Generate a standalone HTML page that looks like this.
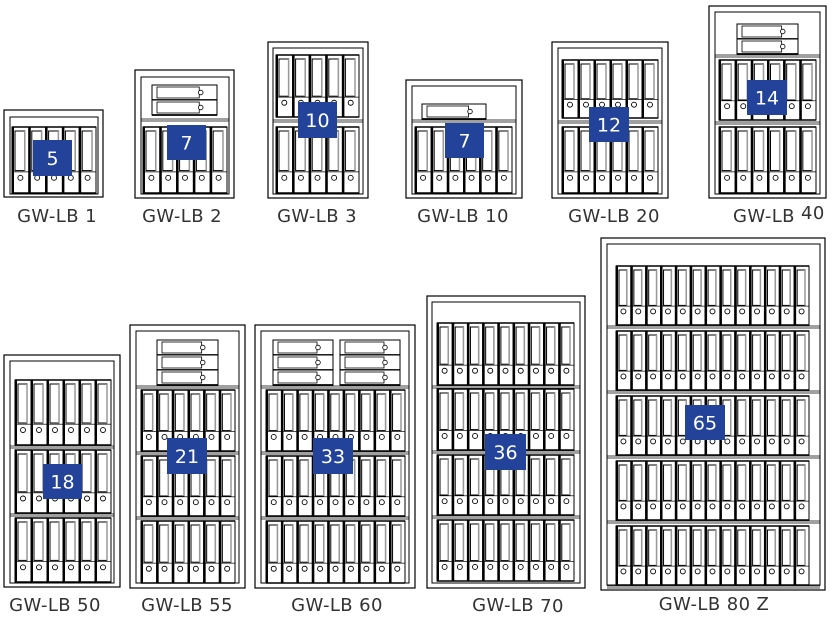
<!DOCTYPE html>
<html><head><meta charset="utf-8"><style>
html,body{margin:0;padding:0;background:#fff;width:836px;height:619px;overflow:hidden}
svg{display:block}
text{font-family:"DejaVu Sans","Liberation Sans",sans-serif}
.lb{font-size:18px;fill:#333;letter-spacing:0.4px}
.bd{font-size:19px;fill:#fff}
</style></head><body>
<svg id="s" width="836" height="619" viewBox="0 0 836 619" xmlns="http://www.w3.org/2000/svg">
<g id="g"></g>
<g id="badges"></g>
<text class="lb" x="57" y="222" text-anchor="middle">GW-LB 1</text>
<text class="lb" x="182" y="222" text-anchor="middle">GW-LB 2</text>
<text class="lb" x="317" y="222" text-anchor="middle">GW-LB 3</text>
<text class="lb" x="463" y="222" text-anchor="middle">GW-LB 10</text>
<text class="lb" x="614" y="222" text-anchor="middle">GW-LB 20</text>
<text class="lb" x="733" y="222">GW-LB <tspan dy="-3">40</tspan></text>
<text class="lb" x="55" y="611" text-anchor="middle">GW-LB 50</text>
<text class="lb" x="187" y="611" text-anchor="middle">GW-LB 55</text>
<text class="lb" x="337" y="611" text-anchor="middle">GW-LB 60</text>
<text class="lb" x="518" y="611" text-anchor="middle">GW-LB <tspan dy="1">70</tspan></text>
<text class="lb" x="714" y="610" text-anchor="middle">GW-LB 80 Z</text>
</svg>
<script>
var NS="http://www.w3.org/2000/svg",G=document.getElementById('g'),B=document.getElementById('badges');
function el(t,a,p){var e=document.createElementNS(NS,t);for(var k in a)e.setAttribute(k,a[k]);(p||G).appendChild(e);return e;}
function rect(x,y,w,h,sw,fill){el('rect',{x:x,y:y,width:w,height:h,fill:fill||'none',stroke:'#000','stroke-width':sw||1});}
function line(x1,y1,x2,y2,sw,c){el('line',{x1:x1,y1:y1,x2:x2,y2:y2,stroke:c||'#000','stroke-width':sw||1});}
function row(x0,x1,y0,y1,n){var w=(x1-x0)/n,h=y1-y0;
 for(var i=0;i<n;i++){var x=x0+i*w;
  rect(x,y0,w,h,1,'#fff');
  line(x+1,y0,x+1,y1,2);
  rect(x+3,y0+4,w-7,h*0.6,1,'#fff');
  line(x+w-4,y0+4,x+w-4,y0+4+h*0.6,1.5,'#999');
  line(x,y0+h*0.68,x+w,y0+h*0.68,0.7);
  el('circle',{cx:x+w/2,cy:y0+h*0.77,r:2.5,fill:'#fff',stroke:'#000','stroke-width':0.9});
  line(x,y1,x+w,y1,1.5);
 }
 line(x0,y0,x1,y0,1.5);
}
function hb(x0,x1,y0,h,n){for(var i=0;i<n;i++){var y=y0+i*h;rect(x0,y,x1-x0,h,1,'#fff');line(x0,y+h,x1,y+h,1.8);rect(x0+5,y+2,(x1-x0)*0.65,h-4,0.8);el('circle',{cx:x0+(x1-x0)*0.75,cy:y+h/2,r:2.3,fill:'#fff',stroke:'#000','stroke-width':0.8});}}
function shelf(x0,x1,y){line(x0,y-1,x1,y-1,0.8);line(x0,y+1,x1,y+1,0.8);}
function cab(ox,oy,ow,oh,ix,iy,iw,ih){rect(ox,oy,ow,oh,1.2);rect(ix,iy,iw,ih,1);}
function badge(x,y,w,h,t){el('rect',{x:x,y:y,width:w,height:h,fill:'#23429a'},B);var e=el('text',{x:x+w/2,y:y+h/2+7,'text-anchor':'middle',class:'bd'},B);e.textContent=t;}
cab(4,110,99,87,10,117,88,77); row(12,96,127,193,5); badge(33,140,39,36,'5');
cab(135,70,99,128,141,77,88,117); hb(152,217,85,15,2); shelf(141,229,120); row(143,227,127,193,5); badge(167,125,39,35,'7');
cab(268,42,100,156,273,48,90,146); row(276,359,55,117,5); shelf(273,363,121); row(276,359,127,193,5); badge(298,102,39,36,'10');
cab(406,80,116,118,412,86,104,108); hb(422,486,104,15,1); shelf(412,516,121); row(415,512,127,193,6); badge(445,123,39,35,'7');
cab(552,42,116,156,558,48,104,146); row(562,658,60,118,6); shelf(558,662,122); row(562,658,127,193,6); badge(589,107,40,35,'12');
cab(709,6,117,192,715,12,105,182); hb(737,798,24,15,2); shelf(715,820,56); row(719,816,60,120,6); shelf(715,820,123); row(719,816,127,193,6); badge(747,80,40,35,'14');
cab(4,355,116,232,10,361,104,222); row(15,111,380,445,6); shelf(10,114,447); row(15,111,450,513,6); shelf(10,114,515); row(15,111,518,582,6); badge(43,464,39,35,'18');
cab(130,325,115,263,136,331,103,252); hb(157,218,340,15,3); shelf(136,239,387); row(141,235,390,451,6); shelf(136,239,453); row(141,235,456,516,6); shelf(136,239,518); row(141,235,521,583,6); badge(167,438,40,36,'21');
cab(255,325,160,263,261,331,148,252); hb(273,333,340,15,3); hb(340,400,340,15,3); shelf(261,409,387); row(266,405,390,451,9); shelf(261,409,453); row(266,405,456,516,9); shelf(261,409,518); row(266,405,521,583,9); badge(313,438,40,36,'33');
cab(427,296,158,292,432,302,148,281); row(437,574,323,385,9); shelf(432,580,387); row(437,574,389,450,9); shelf(432,580,452); row(437,574,455,515,9); shelf(432,580,517); row(437,574,520,581,9); badge(485,434,41,36,'36');
cab(601,238,224,352,607,244,213,341);
[266,331,396,461,526].forEach(function(y,i){row(616,809,y,y+59,13); shelf(607,820,y+61);});
badge(685,405,40,35,'65');
</script>
</body></html>
